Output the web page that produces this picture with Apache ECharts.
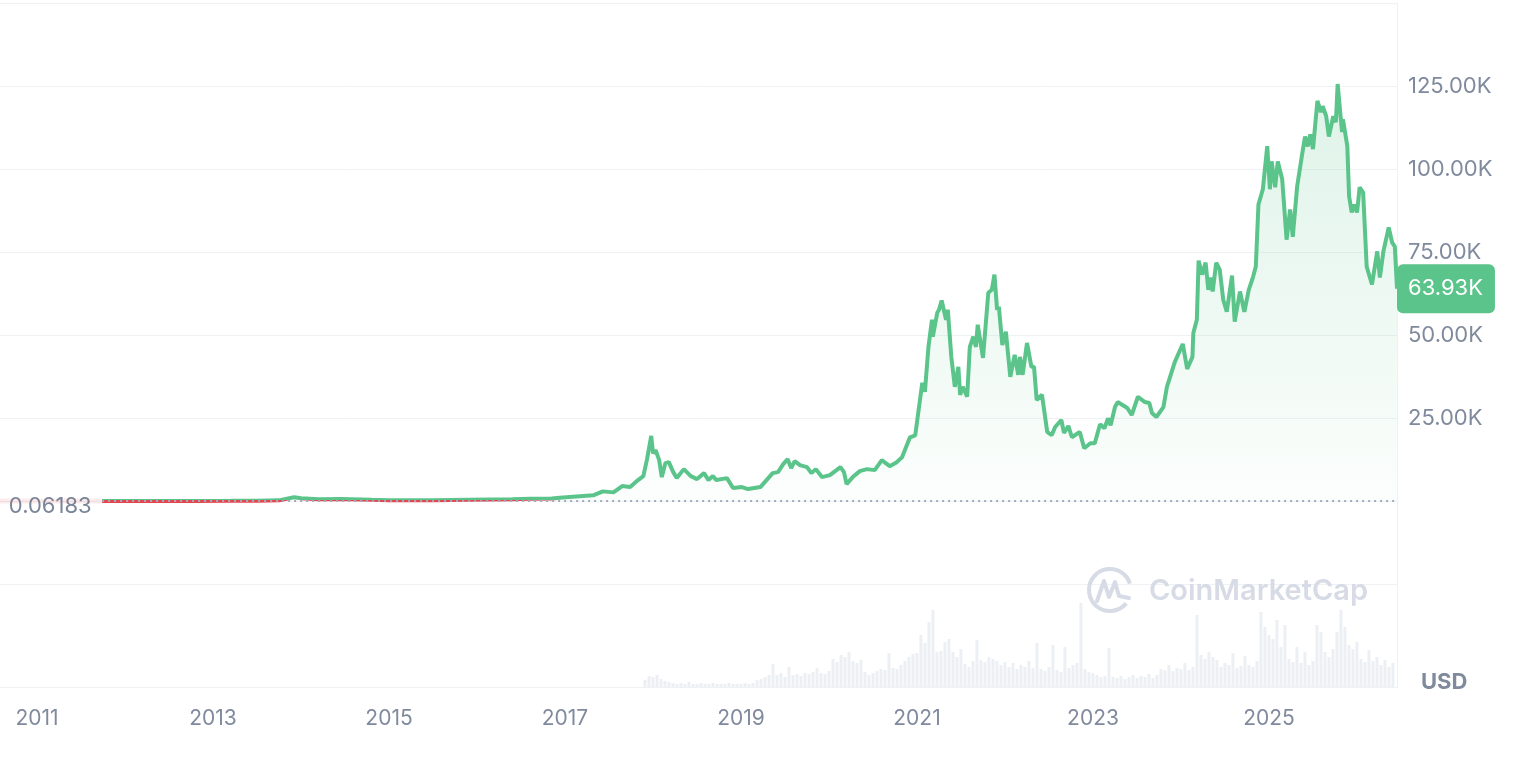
<!DOCTYPE html>
<html>
<head>
<meta charset="utf-8">
<script src="https://cdn.jsdelivr.net/npm/echarts@6/dist/echarts.min.js"></script>
<style>
html,body{margin:0;padding:0;background:#ffffff;}
#chart{width:1540px;height:762px;}
</style>
</head>
<body>
<div id="chart"></div>
<script>
// ---- DATA (decimal year, USD) ----
const price2011to2016 = [
  [2011.74, 0.06183],[2012.3, 5],[2012.8, 12],[2013.2, 50],[2013.5, 100],[2013.75, 200],
  [2013.92, 1150],[2014.0, 800],[2014.2, 550],[2014.45, 620],[2014.8, 350],[2015.0, 250],
  [2015.5, 260],[2015.9, 400],[2016.4, 550],[2016.6, 650],[2016.85, 720]
];
const price2017to2020 = [
  [2016.94, 1000],[2017.32, 1700],[2017.43, 2900],[2017.55, 2600],[2017.65, 4500],[2017.74, 4200],
  [2017.83, 6300],[2017.89, 7500],[2017.93, 12300],[2017.98, 19600],[2018.0, 14400],[2018.03, 15300],
  [2018.07, 12300],[2018.10, 7200],[2018.14, 11400],[2018.18, 11700],[2018.23, 8700],[2018.27, 6900],
  [2018.35, 9600],[2018.43, 7500],[2018.50, 6600],[2018.58, 8400],[2018.63, 6300],[2018.68, 7500],
  [2018.72, 6300],[2018.84, 6900],[2018.91, 3900],[2019.01, 4200],[2019.08, 3600],[2019.22, 4200],
  [2019.27, 5700],[2019.36, 8400],[2019.42, 8700],[2019.48, 11100],[2019.53, 12600],[2019.57, 9900],
  [2019.61, 12000],[2019.67, 10800],[2019.75, 10200],[2019.80, 8400],[2019.85, 9600],[2019.92, 7200],
  [2020.01, 7800],[2020.13, 10200],[2020.17, 8700],[2020.20, 5100],[2020.27, 7200],[2020.35, 9000],
  [2020.43, 9600],[2020.52, 9300],[2020.60, 12300],[2020.69, 10500],[2020.77, 11700],[2020.83, 13200],
  [2020.92, 19200],[2020.98, 19800]
];
const price2021to2023 = [
  [2021.06, 35600],[2021.09, 32900],[2021.13, 46400],[2021.17, 54600],[2021.18, 49500],[2021.23, 56700],
  [2021.25, 57600],[2021.28, 60400],[2021.33, 54600],[2021.35, 57600],[2021.39, 43400],[2021.43, 34400],
  [2021.47, 40400],[2021.49, 32000],[2021.52, 34400],[2021.57, 31400],[2021.60, 46400],[2021.64, 49500],
  [2021.67, 46400],[2021.69, 53100],[2021.75, 43100],[2021.81, 62700],[2021.85, 63600],[2021.88, 68200],
  [2021.91, 57600],[2021.93, 58500],[2021.97, 47000],[2022.01, 51000],[2022.06, 37400],[2022.11, 44000],
  [2022.15, 38000],[2022.17, 43400],[2022.20, 38000],[2022.25, 47600],[2022.30, 40400],[2022.33, 40400],
  [2022.36, 30400],[2022.42, 32000],[2022.48, 20800],[2022.53, 19800],[2022.57, 22300],[2022.64, 24400],
  [2022.67, 20500],[2022.72, 22600],[2022.76, 19200],[2022.85, 20800],[2022.90, 15900],[2022.97, 17400],
  [2023.02, 17400],[2023.08, 23100],[2023.13, 21900],[2023.17, 24900],[2023.20, 22800],[2023.25, 28300],
  [2023.28, 29800],[2023.39, 28000],[2023.44, 25900],[2023.51, 31400],[2023.59, 29800],[2023.64, 29500],
  [2023.67, 26500],[2023.72, 25300],[2023.80, 28300],[2023.84, 34400],[2023.93, 41900]
];
const price2024to2026 = [
  [2024.02, 47300],[2024.07, 39800],[2024.13, 43400],[2024.14, 50600],[2024.18, 54600],[2024.20, 72400],
  [2024.24, 68200],[2024.28, 71800],[2024.31, 63600],[2024.34, 67300],[2024.36, 63100],[2024.40, 71800],
  [2024.44, 69700],[2024.48, 60600],[2024.52, 57000],[2024.58, 67900],[2024.61, 54000],[2024.67, 63100],
  [2024.72, 57000],[2024.77, 63600],[2024.82, 67600],[2024.85, 70600],[2024.88, 89300],[2024.93, 93900],
  [2024.98, 106900],[2025.01, 93900],[2025.03, 102300],[2025.07, 94500],[2025.10, 102300],[2025.15, 96900],
  [2025.20, 78700],[2025.24, 87800],[2025.27, 79600],[2025.32, 94800],[2025.38, 105000],[2025.41, 109800],
  [2025.44, 106800],[2025.47, 110400],[2025.50, 106000],[2025.55, 120500],[2025.59, 117100],[2025.61, 118900],
  [2025.65, 115900],[2025.68, 109800],[2025.73, 115900],[2025.76, 114100],[2025.78, 125600],[2025.83, 111100],
  [2025.84, 115000],[2025.89, 106900],[2025.91, 91800],[2025.94, 86900],[2025.97, 89300],[2026.00, 86900],
  [2026.03, 94500],[2026.07, 92900],[2026.11, 70600],[2026.17, 65200],[2026.23, 75200],[2026.26, 67300],
  [2026.30, 75200],[2026.36, 82400],[2026.40, 77800],[2026.43, 76600],[2026.4545, 63930]
];
// trading volume (billions USD), one bar every VOLUME_STEP years from VOLUME_START
const VOLUME_START = 2017.909;
const VOLUME_STEP = 0.04545;
const volumeBillions = [
  7,11,10,12, 8,6,5,4, 3,4,3,5,3,3,4,3,3,4,3,3,3,4, 3,3,3,4,3,4, 7,8,10, 12,23,
  12,14,10,20,12,13,11, 14,13,15,19,14,13,16, 28,25,32,30,35,26,24,27, 15,12,14,16,
  18,17,34,19,18, 22,26,30, 33,34,52, 44,65, 77, 35,36, 45,48, 35,30,38, 23,20,26,47,
  27,25,30,28,26, 22,25,20,24,18,22,20,26,19, 44, 18,16,20,42,17,15,40,19, 22,24,84,18,
  15,14,12, 10,11,39, 10,9,11,8,10,12,9,11,10,13,9,12, 18,17,22,16,19,18,24,17,20,72,
  32,28,35,30,27, 20,24,22,34,19,21,31,22,20,26, 75, 60,52,48, 67,40,62,
  28,25,40,24,35,22,26, 62,55, 35,30,38, 55,77,60, 42,38,45, 28,25,37,26,30, 22,27,20,24
];
const yearTicks = [2011, 2013, 2015, 2017, 2019, 2021, 2023, 2025];

// ---- CHART ----
const FONT = 'Inter, "Noto Sans", sans-serif';
const X_MIN = 2010.5795, X_MAX = 2026.4545;
const GREEN = '#5ac48a', RED = '#e4464e';
const GRID_LINE = '#eff2f5';

const priceData = [].concat(price2011to2016, price2017to2020, price2021to2023, price2024to2026);
const volumeData = volumeBillions.map((v, i) => [VOLUME_START + i * VOLUME_STEP, v]);
const first = priceData[0];
const baselineY = 3 + 581 * (150000 / 175000);
const splitY = (baselineY - 0.8) / 762;

const chart = echarts.init(document.getElementById('chart'), null, {renderer: 'canvas'});
chart.setOption({
  animation: false,
  backgroundColor: '#ffffff',
  grid: [
    {left: 0, right: 143, top: 3, height: 581},
    {left: 0, right: 143, top: 584, height: 103}
  ],
  xAxis: [
    {type: 'value', gridIndex: 0, min: X_MIN, max: X_MAX, show: false},
    {type: 'value', gridIndex: 1, min: X_MIN, max: X_MAX,
      axisLine: {show: true, lineStyle: {color: GRID_LINE}},
      axisTick: {show: false}, splitLine: {show: false},
      axisLabel: {customValues: yearTicks, formatter: v => String(Math.round(v)),
        color: '#808a9d', fontSize: 21, fontFamily: FONT, margin: 21}}
  ],
  yAxis: [
    {type: 'value', gridIndex: 0, position: 'right', min: -25000, max: 150000, interval: 25000,
      axisLine: {show: true, lineStyle: {color: GRID_LINE}}, axisTick: {show: false},
      splitLine: {show: true, lineStyle: {color: GRID_LINE, width: 1}},
      axisLabel: {margin: 11, color: '#808a9d', fontSize: 22, fontFamily: FONT,
        formatter: v => (v > 0 && v < 150000) ? (v / 1000).toFixed(2) + 'K' : ''}},
    {type: 'value', gridIndex: 1, position: 'right', min: 0, max: 103,
      axisLine: {show: true, lineStyle: {color: GRID_LINE}}, axisTick: {show: false},
      axisLabel: {show: false}, splitLine: {show: false}}
  ],
  series: [
    {type: 'bar', name: 'volume', xAxisIndex: 1, yAxisIndex: 1, data: volumeData,
      barWidth: 3, itemStyle: {color: '#eceff3'}, silent: true, z: 1},
    {type: 'line', name: 'lead', xAxisIndex: 0, yAxisIndex: 0,
      data: [[X_MIN, first[1]], [first[0], first[1]]], symbol: 'none', silent: true,
      lineStyle: {color: 'rgba(234,57,67,0.10)', width: 5}, z: 1},
    {type: 'line', name: 'price', xAxisIndex: 0, yAxisIndex: 0, data: priceData,
      showSymbol: false, symbol: 'none', smooth: false, silent: true, z: 3,
      lineStyle: {width: 4, color: {type: 'linear', x: 0, y: 0, x2: 0, y2: 762, global: true,
        colorStops: [{offset: 0, color: GREEN}, {offset: splitY, color: GREEN},
                     {offset: splitY, color: RED}, {offset: 1, color: RED}]}},
      areaStyle: {color: {type: 'linear', x: 0, y: 0, x2: 0, y2: 1,
        colorStops: [{offset: 0, color: 'rgba(89,195,138,0.28)'}, {offset: 1, color: 'rgba(89,195,138,0.03)'}]}},
      endLabel: {show: true, distance: 0, formatter: p => (p.value[1] / 1000).toFixed(2) + 'K',
        color: '#ffffff', backgroundColor: GREEN, borderRadius: 6, padding: [14, 12, 13, 11],
        fontSize: 22, fontFamily: FONT}},
    {type: 'line', name: 'baseline', xAxisIndex: 0, yAxisIndex: 0,
      data: [[first[0], first[1]], [X_MAX, first[1]]], symbol: 'none', silent: true, z: 4,
      lineStyle: {color: '#a3aabb', width: 2, type: [2, 4]}},
    {type: 'scatter', name: 'startLabel', xAxisIndex: 0, yAxisIndex: 0, data: [first],
      symbolSize: 1, itemStyle: {color: 'rgba(0,0,0,0)'}, silent: true, z: 5,
      label: {show: true, position: 'left', distance: 10, offset: [0, 5],
        formatter: p => String(p.value[1]), color: '#58667e', fontSize: 22, fontFamily: FONT}}
  ],
  graphic: [
    {type: 'arc', z: 10, silent: true, shape: {cx: 1110, cy: 590, r: 21, startAngle: Math.PI * 0.22, endAngle: Math.PI * 1.9},
      style: {fill: null, stroke: '#d6dbe5', lineWidth: 4}},
    {type: 'polyline', z: 10, silent: true,
      shape: {points: [[1097, 601], [1104, 581], [1109, 597], [1115, 582], [1119, 596], [1129, 598]]},
      style: {fill: null, stroke: '#d6dbe5', lineWidth: 4, lineJoin: 'round', lineCap: 'round'}},
    {type: 'text', z: 10, silent: true, x: 1149, y: 591,
      style: {text: 'CoinMarketCap', fontSize: 29, fontWeight: 600, fontFamily: FONT, fill: '#d6dbe5', verticalAlign: 'middle'}},
    {type: 'text', z: 10, silent: true, x: 1421, y: 682,
      style: {text: 'USD', fontSize: 22, fontWeight: 700, fontFamily: FONT, fill: '#808a9d', verticalAlign: 'middle'}}
  ]
});
</script>
</body>
</html>
